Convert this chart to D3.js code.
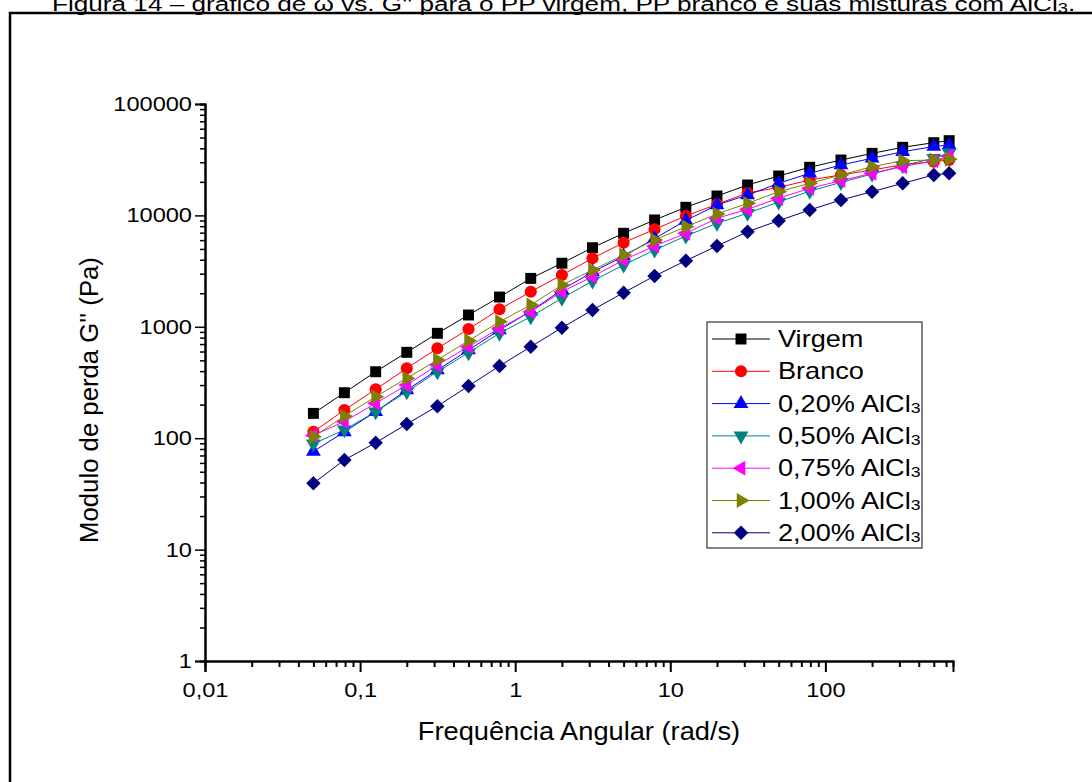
<!DOCTYPE html>
<html>
<head>
<meta charset="utf-8">
<script src="https://cdn.jsdelivr.net/npm/d3@7"></script>
<style>
  body { margin: 0; background: #fff; }
  svg { display: block; font-family: Arial, "Liberation Sans", sans-serif; }
</style>
</head>
<body>
<svg id="chart" width="1092" height="782"></svg>
<script>
// angular frequency (rad/s)
var freq = [0.05, 0.0792, 0.126, 0.2, 0.315, 0.5, 0.792, 1.26, 2, 3.15, 5, 7.92,
  12.6, 20, 31.5, 50, 79.2, 126, 200, 315, 500, 628];

// loss modulus G'' (Pa) for each sample
var virgem = [167, 256, 395, 590, 874, 1276, 1850, 2720, 3720, 5130, 6910, 9100,
  11830, 14930, 18750, 22580, 27040, 31420, 36060, 40830, 44980, 46870];
var branco = [114, 179, 275, 424, 641, 955, 1436, 2066, 2917, 4120, 5690, 7500,
  9880, 12590, 15900, 17800, 20800, 23070, 25570, 28500, 30350, 31420];
var al020 = [76, 114, 173, 271, 409, 619, 936, 1380, 2150, 3100, 4300, 6200,
  9000, 12400, 15240, 19410, 23890, 28330, 32580, 37330, 41500, 42870];
var al050 = [89, 119, 173, 261, 395, 586, 874, 1233, 1803, 2578, 3589, 4890,
  6530, 8490, 10450, 13200, 16500, 19800, 23500, 28000, 32500, 36500];
var al075 = [106, 141, 206, 300, 454, 663, 970, 1367, 2066, 2818, 3981, 5310,
  6910, 9420, 11350, 14250, 17500, 20500, 23900, 27350, 31000, 34000];
var al100 = [103, 158, 236, 345, 504, 750, 1111, 1570, 2373, 3236, 4411, 6013,
  7920, 10300, 12830, 16330, 19410, 23070, 27370, 30970, 31420, 31900];
var al200 = [39.4, 63.7, 91.1, 134, 194, 294, 445, 662, 981, 1416, 2024, 2858,
  3925, 5310, 7140, 8970, 11190, 13750, 16330, 19410, 23070, 23890];

var seriesNames = ["Virgem", "Branco", "0,20% AlCl", "0,50% AlCl", "0,75% AlCl", "1,00% AlCl", "2,00% AlCl"];
var seriesSub = ["", "", "3", "3", "3", "3", "3"];
var seriesValues = [virgem, branco, al020, al050, al075, al100, al200];
var seriesColors = ["#000000", "#ff0000", "#0000ff", "#008080", "#ff00ff", "#808000", "#000080"];
var seriesShapes = ["square", "circle", "up", "down", "left", "right", "diamond"];

var xTickValues = [0.01, 0.1, 1, 10, 100];
var xTickLabels = ["0,01", "0,1", "1", "10", "100"];
var yTickValues = [1, 10, 100, 1000, 10000, 100000];
var yTickLabels = ["1", "10", "100", "1000", "10000", "100000"];

// the scanned figure is a bit wider than tall, so text gets stretched horizontally
var STRETCH = 1.18;

var svg = d3.select("#chart");

// outer frame of the figure (cut off at right and bottom)
svg.append("path")
  .attr("d", "M10,1000 L10,13 L1100,13")
  .attr("fill", "none")
  .attr("stroke", "#000")
  .attr("stroke-width", 2.5);

// figure caption, clipped at the top of the page
var title = svg.append("text")
  .attr("x", 52)
  .attr("y", 11)
  .attr("font-size", 20)
  .attr("fill", "#000");
title.append("tspan").text("Figura 14 \u2013 gr\u00e1fico de \u03c9 vs. G'' para o PP virgem, PP branco e suas misturas com AlCl");
title.append("tspan").attr("font-size", 14).attr("dy", 2).text("3");
title.append("tspan").attr("dy", -2).text(".");
var tb = title.node().getBBox();
title.attr("transform", "translate(52,0) scale(" + (1024 / tb.width) + ",1) translate(-52,0)");

var x = d3.scaleLog().domain([0.01, 665]).range([205, 953]);
var y = d3.scaleLog().domain([1, 100000]).range([661, 104]);

function minorTicks(domain) {
  var out = [];
  var lo = Math.floor(Math.log10(domain[0])), hi = Math.ceil(Math.log10(domain[1]));
  for (var e = lo; e < hi; e++) {
    for (var m = 2; m <= 9; m++) {
      var v = m * Math.pow(10, e);
      if (v >= domain[0] && v <= domain[1]) out.push(v);
    }
  }
  return out;
}

// x axis
var gx = svg.append("g").attr("transform", "translate(0,661)");
gx.call(d3.axisBottom(x).tickValues(minorTicks(x.domain())).tickSize(6).tickFormat(""));
gx.append("g").call(d3.axisBottom(x).tickValues(xTickValues).tickSize(11)
  .tickFormat(function (d, i) { return xTickLabels[i]; }));
gx.selectAll(".domain").attr("stroke", "#000").attr("stroke-width", 2);
gx.selectAll(".tick line").attr("stroke", "#000").attr("stroke-width", 2);
gx.selectAll(".tick text").attr("font-size", 20).attr("font-family", "Arial, 'Liberation Sans', sans-serif")
  .attr("fill", "#000").attr("y", 0).attr("dy", 0)
  .attr("transform", "translate(0,36) scale(" + STRETCH + ",1)");

// y axis
var gy = svg.append("g").attr("transform", "translate(205,0)");
gy.call(d3.axisLeft(y).tickValues(minorTicks(y.domain())).tickSize(5).tickFormat(""));
gy.append("g").call(d3.axisLeft(y).tickValues(yTickValues).tickSize(10)
  .tickFormat(function (d, i) { return yTickLabels[i]; }));
gy.selectAll(".domain").attr("stroke", "#000").attr("stroke-width", 2);
gy.selectAll(".tick line").attr("stroke", "#000").attr("stroke-width", 1.5);
gy.selectAll(".tick text").attr("font-size", 20).attr("font-family", "Arial, 'Liberation Sans', sans-serif")
  .attr("fill", "#000").attr("x", 0)
  .attr("transform", "translate(-13,0) scale(" + STRETCH + ",1)");

// axis titles
svg.append("text")
  .attr("transform", "translate(579,740) scale(1.09,1)")
  .attr("text-anchor", "middle")
  .attr("font-size", 25)
  .text("Frequ\u00eancia Angular (rad/s)");
svg.append("text")
  .attr("transform", "translate(98,400) rotate(-90) scale(1.03,1)")
  .attr("text-anchor", "middle")
  .attr("font-size", 25)
  .text("Modulo de perda G'' (Pa)");

function markerPath(shape) {
  if (shape === "square") return { d: d3.symbol(d3.symbolSquare, 120)(), r: 0 };
  if (shape === "circle") return { d: d3.symbol(d3.symbolCircle, 115)(), r: 0 };
  if (shape === "diamond") return { d: d3.symbol(d3.symbolSquare, 105)(), r: 45 };
  var rot = { up: 0, right: 90, down: 180, left: 270 }[shape];
  return { d: d3.symbol(d3.symbolTriangle, 95)(), r: rot };
}

var line = d3.line()
  .x(function (d) { return x(d[0]); })
  .y(function (d) { return y(d[1]); });

var plot = svg.append("g");
seriesValues.forEach(function (vals, i) {
  var pts = freq.map(function (f, j) { return [f, vals[j]]; });
  var g = plot.append("g");
  g.append("path")
    .attr("d", line(pts))
    .attr("fill", "none")
    .attr("stroke", seriesColors[i])
    .attr("stroke-width", 1);
  var m = markerPath(seriesShapes[i]);
  g.selectAll("path.pt").data(pts).enter()
    .append("path")
    .attr("class", "pt")
    .attr("d", m.d)
    .attr("transform", function (d) {
      return "translate(" + x(d[0]) + "," + y(d[1]) + ") rotate(" + m.r + ")";
    })
    .attr("fill", seriesColors[i]);
});

// legend
var legend = svg.append("g");
legend.append("rect")
  .attr("x", 707).attr("y", 322)
  .attr("width", 215).attr("height", 226)
  .attr("fill", "#fff")
  .attr("stroke", "#333")
  .attr("stroke-width", 1.2);
seriesNames.forEach(function (name, i) {
  var cy = 339 + i * 32.3;
  var item = legend.append("g");
  item.append("line")
    .attr("x1", 712).attr("x2", 770)
    .attr("y1", cy).attr("y2", cy)
    .attr("stroke", seriesColors[i])
    .attr("stroke-width", 1);
  var m = markerPath(seriesShapes[i]);
  item.append("path")
    .attr("d", m.d)
    .attr("transform", "translate(741," + cy + ") rotate(" + m.r + ")")
    .attr("fill", seriesColors[i]);
  var t = item.append("text")
    .attr("transform", "translate(778," + (cy + 8) + ") scale(" + STRETCH + ",1)")
    .attr("font-size", 23)
    .attr("fill", "#000");
  t.append("tspan").text(name);
  if (seriesSub[i]) {
    t.append("tspan").attr("font-size", 15).attr("dy", 1).text(seriesSub[i]);
  }
});
</script>
</body>
</html>
